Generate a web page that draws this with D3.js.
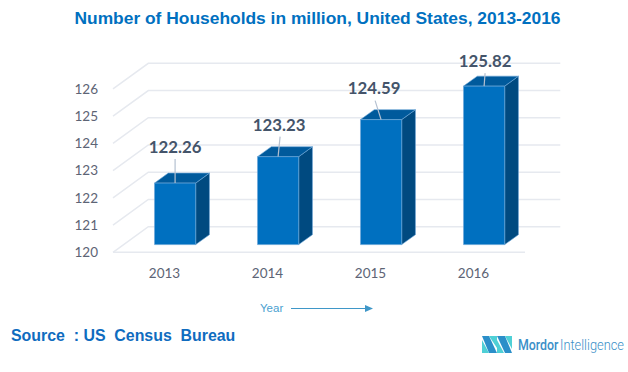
<!DOCTYPE html>
<html>
<head>
<meta charset="utf-8">
<script src="https://cdn.jsdelivr.net/npm/d3@7"></script>
<style>
  html, body { margin: 0; padding: 0; background: #fff; }
  svg { display: block; }
  text { white-space: pre; }
</style>
</head>
<body>
<div class="container"></div>
<script>
// data
const years = ["2013", "2014", "2015", "2016"];
const households = [122.26, 123.23, 124.59, 125.82];
const yTicks = [120, 121, 122, 123, 124, 125, 126];

// chart size
const width = 628, height = 372;
const floor = { left: 113, right: 525, y: 252.3 };
const depth = { x: 35.3, y: -25.6 };   // front edge of floor -> back wall
const barDepth = { front: 0.3, back: 0.69 };

// label leader lines: tip offset from bar top centre, label offset from tip
const leaders = [
  { dx: 0, dy: -24, lx: 0, ly: -12 },
  { dx: 2, dy: -20, lx: -1, ly: -12 },
  { dx: -6, dy: -19, lx: -1, ly: -12 },
  { dx: 1, dy: -13, lx: 0, ly: -12 }
];

const svg = d3.select(".container")
  .append("svg")
  .attr("width", width)
  .attr("height", height)
  .attr("viewBox", `0 0 ${width} ${height}`)
  .style("background-color", "white");

const x = d3.scaleBand().domain(years).range([floor.left, floor.right]).paddingInner(0.6).paddingOuter(0.3);
const xStep = d3.scaleBand().domain(years).range([floor.left, floor.right]);
const y = d3.scaleLinear().domain([120, 126]).range([floor.y, 88.9]);

// project a point of the front plane back by t of the chart depth
const px = (v, t) => v + depth.x * t;
const py = (v, t) => v + depth.y * t;

// title
svg.append("text")
  .attr("x", 317.5)
  .attr("y", 24)
  .attr("text-anchor", "middle")
  .attr("font-family", "Liberation Sans")
  .attr("font-weight", "bold")
  .attr("font-size", 17.4)
  .attr("fill", "#0070c0")
  .text("Number of Households in million, United States, 2013-2016");

// walls: side and back gridlines
const grid = svg.append("g")
  .attr("fill", "none")
  .attr("stroke", "#e6e9ef")
  .attr("stroke-width", 1.5);

yTicks.forEach(t => {
  grid.append("path").attr("d", d3.line()([
    [floor.left, y(t)],
    [px(floor.left, 1), py(y(t), 1)],
    [px(floor.right, 1), py(y(t), 1)]
  ]));
});
grid.append("line")
  .attr("x1", floor.left).attr("x2", floor.right)
  .attr("y1", y(120)).attr("y2", y(120));

// y axis
svg.append("g")
  .attr("transform", `translate(${floor.left},0)`)
  .call(d3.axisLeft(y).tickValues(yTicks).tickSize(0).tickPadding(15).tickFormat(d3.format("d")))
  .call(g => g.select(".domain").remove())
  .call(g => g.selectAll(".tick text")
    .attr("font-family", "Lato")
    .attr("font-size", 13.5)
    .attr("fill", "#5d6475"));

// x axis
svg.append("g")
  .attr("transform", `translate(0,${floor.y})`)
  .call(d3.axisBottom(xStep).tickSize(0).tickPadding(16))
  .call(g => g.select(".domain").remove())
  .call(g => g.selectAll(".tick text")
    .attr("font-family", "Lato")
    .attr("font-size", 13.5)
    .attr("fill", "#5d6475"));

// 3d bars
const bars = svg.selectAll(".bar")
  .data(years.map((year, i) => ({ year, value: households[i], i })))
  .enter()
  .append("g")
  .attr("class", "bar")
  .attr("stroke", "#6fa8d8")
  .attr("stroke-width", 0.6)
  .attr("stroke-linejoin", "round");

const corners = d => {
  const l = px(x(d.year), barDepth.front);
  const r = l + x.bandwidth();
  const dx = depth.x * (barDepth.back - barDepth.front);
  const dy = depth.y * (barDepth.back - barDepth.front);
  const top = py(y(d.value), barDepth.front);
  const bottom = py(y(120), barDepth.front);
  return { l, r, dx, dy, top, bottom };
};

bars.append("path")
  .attr("fill", "#004a80")
  .attr("d", d => {
    const c = corners(d);
    return d3.line()([[c.r, c.top], [c.r + c.dx, c.top + c.dy], [c.r + c.dx, c.bottom + c.dy], [c.r, c.bottom]]) + "Z";
  });

bars.append("path")
  .attr("fill", "#005a9c")
  .attr("d", d => {
    const c = corners(d);
    return d3.line()([[c.l, c.top], [c.l + c.dx, c.top + c.dy], [c.r + c.dx, c.top + c.dy], [c.r, c.top]]) + "Z";
  });

bars.append("rect")
  .attr("fill", "#0070c0")
  .attr("x", d => corners(d).l)
  .attr("y", d => corners(d).top)
  .attr("width", x.bandwidth())
  .attr("height", d => corners(d).bottom - corners(d).top);

// leader lines and value labels
bars.append("line")
  .attr("stroke", "#b4c0d0")
  .attr("stroke-width", 1.2)
  .attr("x1", d => (corners(d).l + corners(d).r) / 2)
  .attr("y1", d => corners(d).top)
  .attr("x2", d => (corners(d).l + corners(d).r) / 2 + leaders[d.i].dx)
  .attr("y2", d => corners(d).top + leaders[d.i].dy);

bars.append("text")
  .attr("stroke", "none")
  .attr("text-anchor", "middle")
  .attr("dy", "0.35em")
  .attr("font-family", "Lato")
  .attr("font-weight", "bold")
  .attr("font-size", 16.8)
  .attr("fill", "#44546a")
  .attr("x", d => (corners(d).l + corners(d).r) / 2 + leaders[d.i].dx + leaders[d.i].lx)
  .attr("y", d => corners(d).top + leaders[d.i].dy + leaders[d.i].ly)
  .text(d => d.value.toFixed(2));

// axis name with arrow
svg.append("text")
  .attr("x", 260)
  .attr("y", 312)
  .attr("font-family", "Liberation Sans")
  .attr("font-size", 11.5)
  .attr("fill", "#4a9fd0")
  .text("Year");

svg.append("line")
  .attr("x1", 291).attr("x2", 366)
  .attr("y1", 308.5).attr("y2", 308.5)
  .attr("stroke", "#3f97c8")
  .attr("stroke-width", 1.2);

svg.append("path")
  .attr("d", "M365,305L373,308.5L365,312Z")
  .attr("fill", "#3f97c8");

// source
svg.append("text")
  .attr("x", 11)
  .attr("y", 341)
  .attr("font-family", "Liberation Sans")
  .attr("font-weight", "bold")
  .attr("font-size", 15.9)
  .attr("fill", "#0f6cbf")
  .text("Source  : US  Census  Bureau");

// logo
const logo = svg.append("g");
logo.append("path").attr("d", "M482,336L489,336L497,353L489,353Z").attr("fill", "#2b8fc9");
logo.append("path").attr("d", "M482,340L489,353L482,353Z").attr("fill", "#4fd0d6");
logo.append("path").attr("d", "M489,336L497,336L497,348Z").attr("fill", "#4fd0d6");
logo.append("path").attr("d", "M497,336L505,336L512,353L505,353Z").attr("fill", "#2b8fc9");
logo.append("path").attr("d", "M497,353L497,340L504,353Z").attr("fill", "#4fd0d6");
logo.append("path").attr("d", "M505,336L512,336L512,349Z").attr("fill", "#4fd0d6");

// squeeze the wordmark sideways to the logo's narrow letter widths
function wordmark(word, left, fit, weight) {
  const t = logo.append("text")
    .attr("font-family", "Roboto")
    .attr("font-weight", weight)
    .attr("font-size", 14.5)
    .attr("fill", "#3a8fc8")
    .text(word);
  const sx = fit / t.node().getComputedTextLength();
  t.attr("transform", `translate(${left},350) scale(${sx},1)`);
}
wordmark("Mordor", 518, 40.5, 500);
wordmark("Intelligence", 560, 64, 300);
</script>
</body>
</html>
